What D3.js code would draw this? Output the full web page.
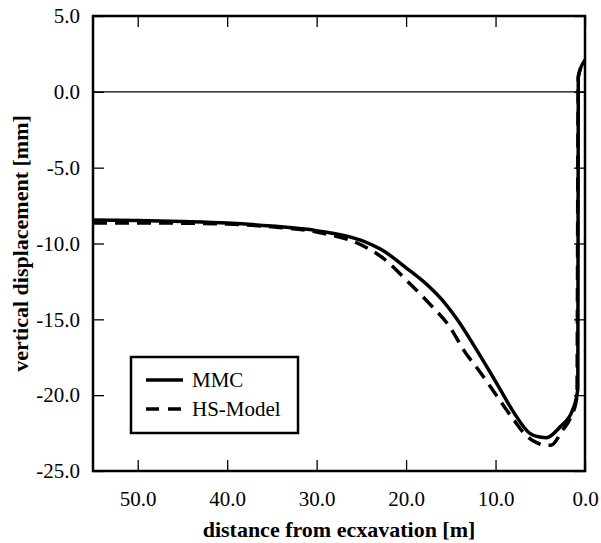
<!DOCTYPE html>
<html>
<head>
<meta charset="utf-8">
<script src="https://cdn.jsdelivr.net/npm/d3@7"></script>
<style>
body { margin:0; background:#fff; }
svg text { font-family: "Liberation Serif", "Times New Roman", serif; fill:#000; }
</style>
</head>
<body>
<svg id="chart"></svg>
<script>
// distance from excavation [m] and vertical displacement [mm]
var mmcDistance = [55, 50, 45, 40, 35, 30, 25, 22.5, 20, 17.5, 16, 14.3, 12.6, 11, 9.5, 8, 6.2, 5.5, 4.3, 2.8, 1.4, 0.8, 0.75, 0];
var mmc         = [-8.45, -8.48, -8.55, -8.65, -8.85, -9.15, -9.8, -10.5, -11.6, -12.8, -13.7, -15.0, -16.55, -18.1, -19.6, -21.1, -22.5, -22.7, -22.8, -22.1, -21.0, -19.6, 1.0, 2.1];
var hsDistance  = [55, 50, 45, 40, 35, 30, 25, 22.5, 20, 17.5, 15, 13.6, 11.7, 9.8, 8, 6.5, 5.5, 4.5, 3.8, 2.5, 1.7, 0.9, 0.75, 0];
var hsModel     = [-8.65, -8.65, -8.66, -8.72, -8.9, -9.25, -10.1, -11.0, -12.4, -13.9, -15.6, -17.0, -18.5, -20.1, -21.6, -22.7, -23.1, -23.3, -23.3, -22.3, -21.6, -20.1, 1.0, 2.1];
var xTicks = [50, 40, 30, 20, 10, 0];
var yTicks = [5, 0, -5, -10, -15, -20, -25];
var seriesNames = ["MMC", "HS-Model"];

var screen = {width:601, height:543}
var margins = {left:93, right:16, top:16, bottom:72}
var graph = {
	width: screen.width - margins.left - margins.right,
	height: screen.height - margins.top - margins.bottom
}
var serif = "'Liberation Serif', 'Times New Roman', serif"

var svg = d3.select("#chart")
	.attr("width", screen.width)
	.attr("height", screen.height)

var xScale = d3.scaleLinear().domain([55, 0]).range([0, graph.width])
var yScale = d3.scaleLinear().domain([-25, 5]).range([graph.height, 0])
var fmt = function(d) { return d.toFixed(1) }

var target = svg.append("g")
	.attr("transform", "translate(" + margins.left + "," + margins.top + ")")

//----------axes----------
var styleAxis = function(g, labels) {
	g.attr("font-family", serif).attr("font-size", 21)
	g.select(".domain").remove()
	g.selectAll(".tick line").attr("stroke", "#000").attr("stroke-width", 1.3)
	if (!labels) g.selectAll(".tick text").remove()
}

target.append("g")
	.attr("transform", "translate(0," + graph.height + ")")
	.call(d3.axisBottom(xScale).tickValues(xTicks).tickSizeInner(-11).tickSizeOuter(0).tickPadding(20).tickFormat(fmt))
	.call(styleAxis, true)
target.append("g")
	.call(d3.axisTop(xScale).tickValues(xTicks).tickSizeInner(-11).tickSizeOuter(0).tickFormat(fmt))
	.call(styleAxis, false)
target.append("g")
	.call(d3.axisLeft(yScale).tickValues(yTicks).tickSizeInner(-11).tickSizeOuter(0).tickPadding(13).tickFormat(fmt))
	.call(styleAxis, true)
target.append("g")
	.attr("transform", "translate(" + graph.width + ",0)")
	.call(d3.axisRight(yScale).tickValues(yTicks).tickSizeInner(-11).tickSizeOuter(0).tickFormat(fmt))
	.call(styleAxis, false)

// zero line
target.append("line")
	.attr("x1", 0).attr("x2", graph.width)
	.attr("y1", yScale(0)).attr("y2", yScale(0))
	.attr("stroke", "#000").attr("stroke-width", 1.3)

//----------curves----------
var line = d3.line()
	.x(function(d) { return xScale(d[0]) })
	.y(function(d) { return yScale(d[1]) })
	.curve(d3.curveMonotoneX)

target.append("path")
	.datum(d3.zip(hsDistance, hsModel))
	.attr("d", line)
	.attr("fill", "none").attr("stroke", "#000").attr("stroke-width", 3.5)
	.attr("stroke-dasharray", "14,8")
target.append("path")
	.datum(d3.zip(mmcDistance, mmc))
	.attr("d", line)
	.attr("fill", "none").attr("stroke", "#000").attr("stroke-width", 3.5)

// frame
target.append("rect")
	.attr("width", graph.width).attr("height", graph.height)
	.attr("fill", "none").attr("stroke", "#000").attr("stroke-width", 2.5)

//----------legend----------
var legend = svg.append("g").attr("transform", "translate(131,357)")
legend.append("rect")
	.attr("width", 167).attr("height", 76)
	.attr("fill", "#fff").attr("stroke", "#000").attr("stroke-width", 2.5)
seriesNames.forEach(function(name, i) {
	var y = 23 + i * 29
	legend.append("line")
		.attr("x1", 15).attr("x2", 52).attr("y1", y).attr("y2", y)
		.attr("stroke", "#000").attr("stroke-width", 3.5)
		.attr("stroke-dasharray", i == 1 ? "13,9" : null)
	legend.append("text")
		.attr("x", 61).attr("y", y + 7)
		.style("font-size", "21px")
		.text(name)
})

//----------labels----------
svg.append("text")
	.attr("text-anchor", "middle")
	.attr("x", margins.left + graph.width / 2)
	.attr("y", 537)
	.style("font-size", "22px").style("font-weight", "bold")
	.text("distance from ecxavation [m]")
svg.append("text")
	.attr("text-anchor", "middle")
	.attr("transform", "translate(28," + (margins.top + graph.height / 2) + ") rotate(-90)")
	.style("font-size", "22px").style("font-weight", "bold")
	.text("vertical displacement [mm]")
</script>
</body>
</html>
